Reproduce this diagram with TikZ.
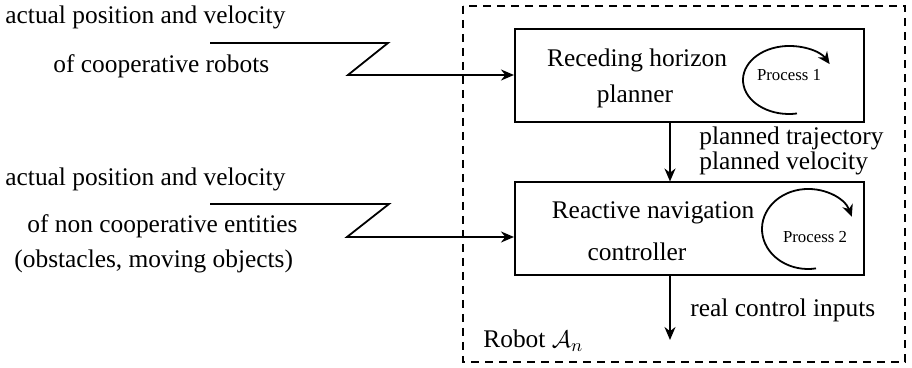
\documentclass[tikz,border=0pt]{standalone}
\usepackage{fontspec}
\setmainfont{Liberation Serif}
\usetikzlibrary{arrows.meta}

\begin{document}
\begin{tikzpicture}[x=0.5pt, y=-0.5pt,
    flow/.style={-{Stealth[length=6.5pt, width=5.5pt]}, line width=0.9pt},
    block/.style={draw, line width=1pt, minimum width=174.5pt, minimum height=46.5pt, inner sep=0pt},
    txt/.style={font=\fontsize{12.7}{15}\selectfont, inner sep=0pt},
    small/.style={font=\fontsize{8.4}{10}\selectfont, inner sep=0pt},
    loop/.style={-{Stealth[length=6pt, width=5.5pt]}, line width=0.9pt}]
    \useasboundingbox (0,0) rectangle (912,368);
    % Robot frame
    \draw[line width=1pt, dash pattern=on 4pt off 3pt] (463,6) rectangle (905,362);
    \node[txt, anchor=base west] (robot) at (483,348) {Robot $\mathcal{A}_n$};
    % Blocks
    \node[block] (plan) at (689.5,75.5) {};
    \node[block] (ctrl) at (689.5,229) {};
    \node[txt, anchor=base] (plan1) at (637,67) {Receding horizon};
    \node[txt, anchor=base] (plan2) at (635,103) {planner};
    \node[txt, anchor=base] (ctrl1) at (653,219) {Reactive navigation};
    \node[txt, anchor=base] (ctrl2) at (637,261) {controller};
    % Processes
    \coordinate (pc1) at (789,80);
    \coordinate (pc2) at (808,229);
    \node[small, anchor=base] (proc1) at (789,81) {Process 1};
    \node[small, anchor=base] (proc2) at (815,243) {Process 2};
    \draw[loop] ([shift={(-80:23pt and 17pt)}]pc1) arc[start angle=-80, end angle=-332, x radius=23pt, y radius=17pt];
    \draw[loop] ([shift={(-80:23pt and 20pt)}]pc2) arc[start angle=-80, end angle=-342, x radius=23pt, y radius=20pt];
    % Inputs
    \node[txt, anchor=base west] (in1a) at (5,24) {actual position and velocity};
    \node[txt, anchor=base west] (in1b) at (53,73) {of cooperative robots};
    \node[txt, anchor=base west] (in2a) at (5,186) {actual position and velocity};
    \node[txt, anchor=base west] (in2b) at (27,233) {of non cooperative entities};
    \node[txt, anchor=base west] (in2c) at (14,268) {(obstacles, moving objects)};
    \coordinate (z1) at (210,43);
    \coordinate (z2) at (210,204);
    \draw[flow] (z1) -- ++(178,0) -- ++(-40,32) coordinate (k1) -- (k1 -| plan.west);
    \draw[flow] (z2) -- ++(179,0) -- ++(-42,33) coordinate (k2) -- (k2 -| ctrl.west);
    % Outputs
    \draw[flow] ([xshift=-9.75pt]plan.south) -- ([xshift=-9.75pt]ctrl.north);
    \coordinate (out) at (670,340);
    \draw[flow] (ctrl.south -| out) -- (out);
    \node[txt, anchor=base west] (traj) at (699,145) {planned trajectory};
    \node[txt, anchor=base west] (vel) at (699,170) {planned velocity};
    \node[txt, anchor=base west] (cmd) at (690,317) {real control inputs};
\end{tikzpicture}
\end{document}
